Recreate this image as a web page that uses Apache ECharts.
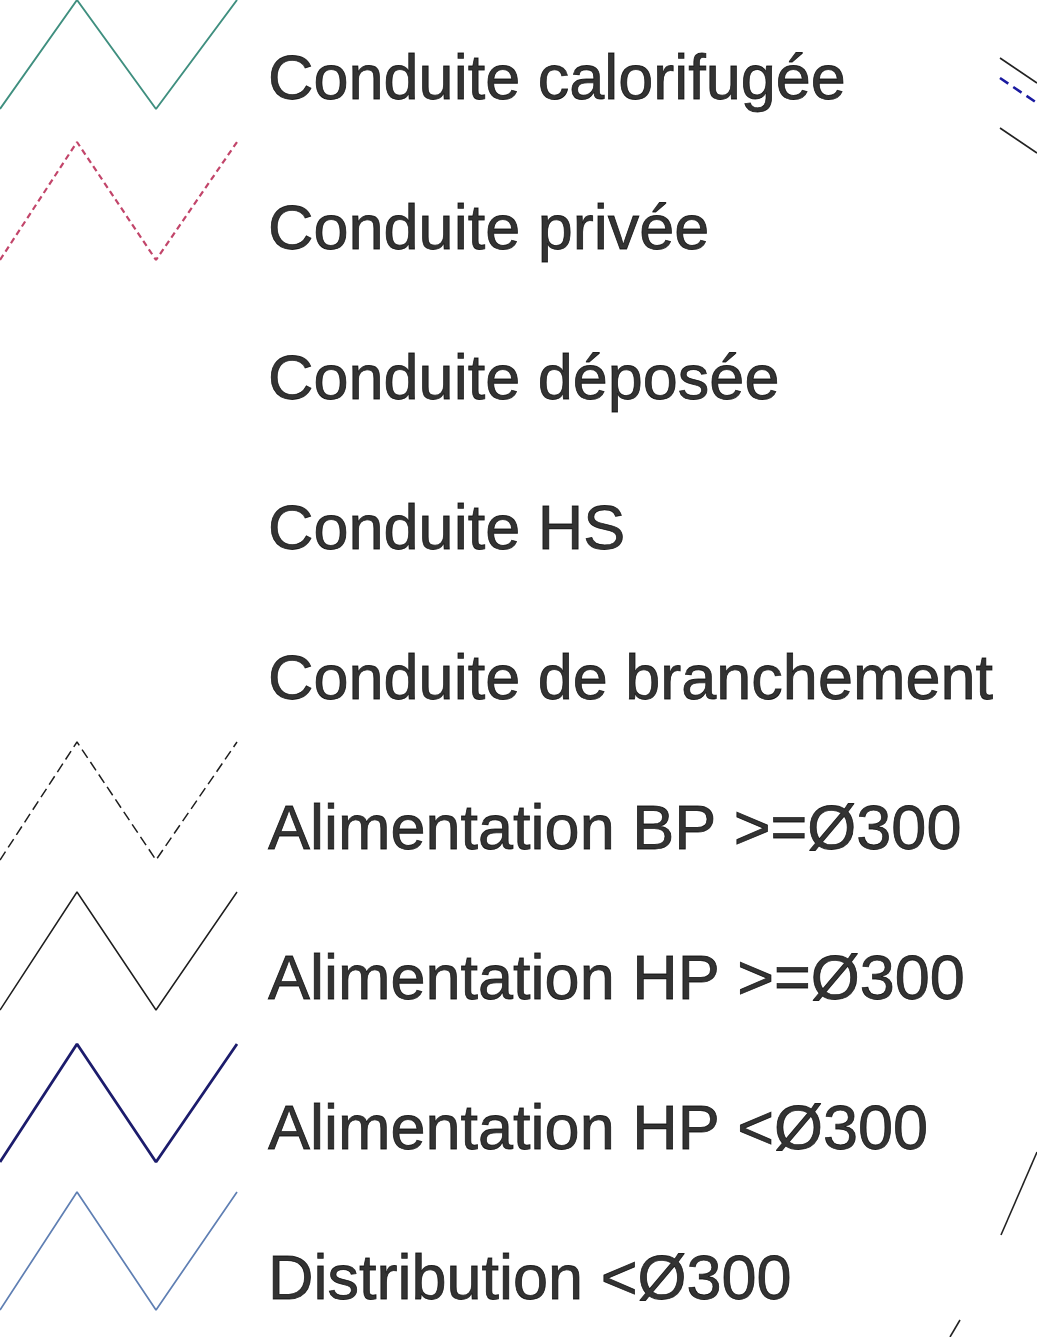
<!DOCTYPE html>
<html>
<head>
<meta charset="utf-8">
<title>Légende des conduites</title>
<script src="https://cdn.jsdelivr.net/npm/echarts@6/dist/echarts.min.js"></script>
<style>
  html, body { margin: 0; padding: 0; background: #fff; }
  #chart { width: 1037px; height: 1337px; }
</style>
</head>
<body>
<div id="chart"></div>
<script>
// libellés de la légende, une ligne tous les 150 px
const labels = [
  'Conduite calorifugée',
  'Conduite privée',
  'Conduite déposée',
  'Conduite HS',
  'Conduite de branchement',
  'Alimentation BP >=Ø300',
  'Alimentation HP >=Ø300',
  'Alimentation HP <Ø300',
  'Distribution <Ø300'
]
const rowCenter = [82, 232, 382, 532, 682, 832, 982, 1132, 1282]

// forme du zigzag (sommets x, et haut/bas)
const zigX = [0, 77, 156, 237]
const zigUp = [0, 1, 0, 1]
const zigBottom = [109, 260, null, null, null, 860, 1010, 1162, 1310]
const zigHeight = [109, 118, 0, 0, 0, 118, 118, 118, 118]

// style des traits par ligne (null = pas de symbole)
const lineColors = ['#3f8f7f', '#c2456a', null, null, null, '#1e1e1e', '#1e1e1e', '#1c1c6c', '#5f7fb3']
const lineTypes = ['solid', [6, 4], null, null, null, [10, 5], 'solid', 'solid', 'solid']
const lineWidths = [1.9, 2.2, 0, 0, 0, 1.5, 1.5, 2.8, 1.7]

// morceaux du plan visibles à droite
const fragBlack1 = [[1000, 58], [1037, 83]]
const fragBlue = [[1000, 78], [1037, 103]]
const fragBlack2 = [[1000, 128], [1037, 153]]
const fragBlack3 = [[1001, 1235], [1037, 1152]]
const fragBlack4 = [[950, 1337], [960, 1320]]

const textX = 268

const series = []
labels.forEach((name, i) => {
  if (zigBottom[i] === null) return
  series.push({
    type: 'line',
    name: name,
    data: zigX.map((x, k) => [x, zigBottom[i] - zigUp[k] * zigHeight[i]]),
    symbol: 'none',
    lineStyle: {
      color: lineColors[i],
      width: lineWidths[i],
      type: lineTypes[i]
    },
    silent: true
  })
})

const frag = (data, color, type, width) => ({
  type: 'line',
  data: data,
  symbol: 'none',
  lineStyle: { color: color, width: width, type: type },
  silent: true
})
series.push(frag(fragBlack1, '#222', 'solid', 1.6))
series.push(frag(fragBlue, '#1a1aa0', [10, 6], 2.6))
series.push(frag(fragBlack2, '#222', 'solid', 1.6))
series.push(frag(fragBlack3, '#222', 'solid', 1.6))
series.push(frag(fragBlack4, '#222', 'solid', 1.6))

// textes
series.push({
  type: 'scatter',
  data: labels.map((name, i) => ({ value: [textX, rowCenter[i]], name: name })),
  symbolSize: 0,
  silent: true,
  label: {
    show: true,
    position: 'right',
    distance: 0,
    formatter: p => p.name,
    color: '#000000',
    textBorderColor: '#000000',
    textBorderWidth: 0.8,
    fontFamily: 'Liberation Sans, Arial, sans-serif',
    fontSize: 63
  }
})

const option = {
  backgroundColor: '#ffffff',
  animation: false,
  grid: { left: 0, right: 0, top: 0, bottom: 0 },
  xAxis: { type: 'value', min: 0, max: 1037, show: false },
  yAxis: { type: 'value', min: 0, max: 1337, inverse: true, show: false },
  series
}

const chart = echarts.init(document.getElementById('chart'))
chart.setOption(option)
</script>
</body>
</html>
